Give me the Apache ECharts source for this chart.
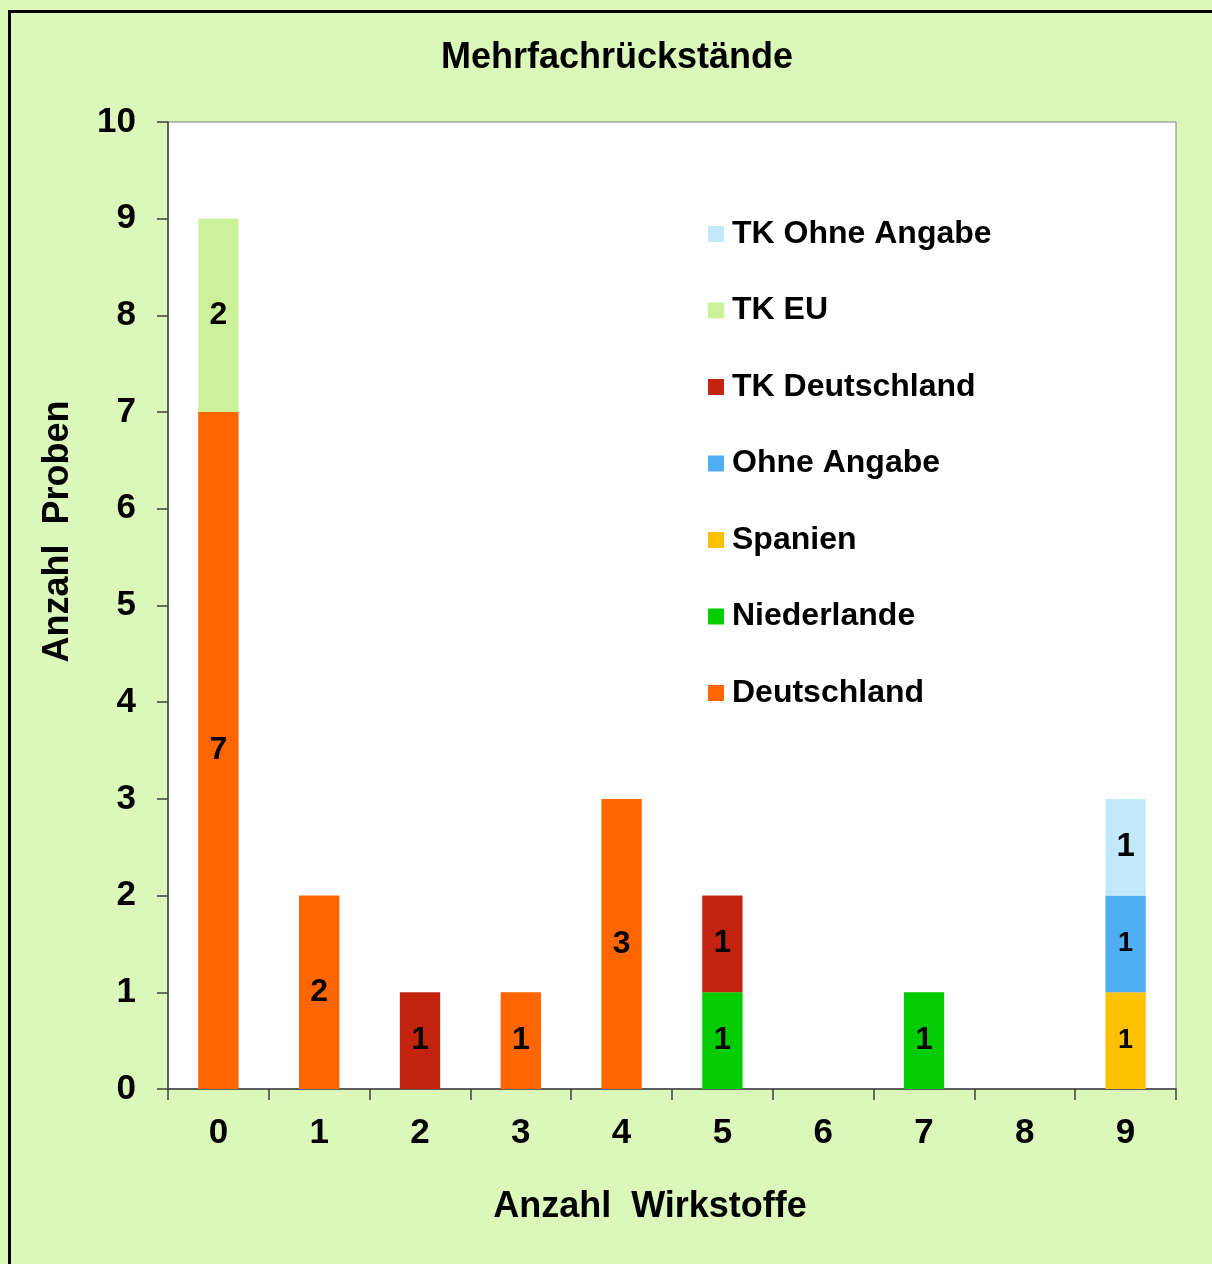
<!DOCTYPE html>
<html>
<head>
<meta charset="utf-8">
<script src="https://cdn.jsdelivr.net/npm/echarts@6/dist/echarts.min.js"></script>
<style>
  html, body { margin: 0; padding: 0; background: #dbf7ba; overflow: hidden; }
  #frame { position: absolute; left: 8px; top: 10px; width: 1260px; height: 1300px; border: 3px solid #000; box-sizing: border-box; }
  #chart { position: absolute; left: 0; top: 0; width: 1212px; height: 1264px; }
</style>
</head>
<body>
<div id="frame"></div>
<div id="chart"></div>
<script>
var categories = ['0', '1', '2', '3', '4', '5', '6', '7', '8', '9'];

// stacked from bottom to top
var deutschland   = [7, 2, null, 1, 3, null, null, null, null, null];
var niederlande   = [null, null, null, null, null, 1, null, 1, null, null];
var spanien       = [null, null, null, null, null, null, null, null, null, 1];
var ohneAngabe    = [null, null, null, null, null, null, null, null, null, 1];
var tkDeutschland = [null, null, 1, null, null, 1, null, null, null, null];
var tkEU          = [2, null, null, null, null, null, null, null, null, null];
var tkOhneAngabe  = [null, null, null, null, null, null, null, null, null, 1];

var yTicks = [0, 10, 1];  // min, max, interval

var fontMain = '"Liberation Sans", Arial, sans-serif';

function bar(name, data, color, labelSize) {
    return {
        name: name,
        type: 'bar',
        stack: 'all',
        barWidth: '40%',
        data: data,
        itemStyle: { color: color },
        label: {
            show: true,
            position: 'inside',
            color: '#000',
            fontWeight: 'bold',
            fontFamily: fontMain,
            fontSize: labelSize
        }
    };
}

var chart = echarts.init(document.getElementById('chart'));

chart.setOption({
    animation: false,
    title: {
        text: 'Mehrfachrückstände',
        left: 436,
        top: 35,
        textStyle: { fontSize: 36, fontWeight: 'bold', fontFamily: fontMain, color: '#000' }
    },
    grid: {
        left: 168, top: 122, right: 36, bottom: 175,
        show: true,
        backgroundColor: '#fff',
        borderColor: '#808080',
        borderWidth: 1
    },
    legend: {
        orient: 'vertical',
        left: 703,
        top: 213,
        itemWidth: 16,
        itemHeight: 16,
        itemGap: 44.5,
        icon: 'rect',
        data: ['TK Ohne Angabe', 'TK EU', 'TK Deutschland', 'Ohne Angabe', 'Spanien', 'Niederlande', 'Deutschland'],
        textStyle: { fontSize: 32, fontWeight: 'bold', fontFamily: fontMain, color: '#000', padding: [0, 0, 0, 3] }
    },
    xAxis: {
        type: 'category',
        data: categories,
        name: 'Anzahl  Wirkstoffe',
        nameLocation: 'middle',
        nameGap: 100,
        nameTextStyle: { fontSize: 36, fontWeight: 'bold', fontFamily: fontMain, color: '#000', padding: [0, 44, 0, 0] },
        axisLine: { lineStyle: { color: '#404040', width: 1.5 } },
        axisTick: { show: true, length: 11, lineStyle: { color: '#404040', width: 1.5 } },
        axisLabel: { margin: 27, fontSize: 35, fontWeight: 'bold', fontFamily: fontMain, color: '#000' }
    },
    yAxis: {
        type: 'value',
        min: yTicks[0],
        max: yTicks[1],
        interval: yTicks[2],
        name: 'Anzahl  Proben',
        nameLocation: 'middle',
        nameGap: 92,
        nameTextStyle: { fontSize: 36, fontWeight: 'bold', fontFamily: fontMain, color: '#000', padding: [0, 0, 0, 148] },
        axisLine: { show: true, lineStyle: { color: '#404040', width: 1.5 } },
        axisTick: { show: true, length: 11, lineStyle: { color: '#404040', width: 1.5 } },
        splitLine: { show: false },
        axisLabel: { margin: 32, fontSize: 35, fontWeight: 'bold', fontFamily: fontMain, color: '#000' }
    },
    series: [
        bar('Deutschland', deutschland, '#ff6600', 32),
        bar('Niederlande', niederlande, '#00cc00', 31),
        bar('Spanien', spanien, '#ffc000', 27),
        bar('Ohne Angabe', ohneAngabe, '#4fadf2', 27),
        bar('TK Deutschland', tkDeutschland, '#c3240f', 31),
        bar('TK EU', tkEU, '#ccf299', 32),
        bar('TK Ohne Angabe', tkOhneAngabe, '#c1e9f9', 33)
    ]
});
</script>
</body>
</html>
